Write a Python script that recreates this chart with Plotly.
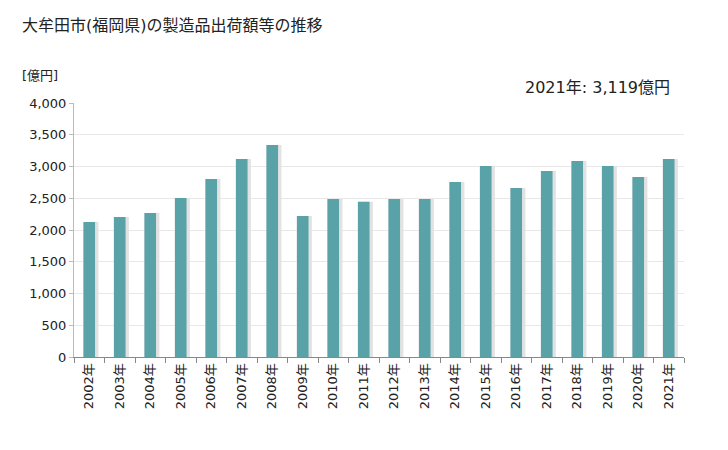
import plotly.graph_objects as go

years = ["2002年", "2003年", "2004年", "2005年", "2006年", "2007年", "2008年", "2009年", "2010年", "2011年",
         "2012年", "2013年", "2014年", "2015年", "2016年", "2017年", "2018年", "2019年", "2020年", "2021年"]
values = [2126, 2205, 2268, 2504, 2803, 3118, 3339, 2220, 2488, 2446,
          2488, 2488, 2756, 3008, 2661, 2929, 3087, 3008, 2835, 3119]
y_ticks = [0, 500, 1000, 1500, 2000, 2500, 3000, 3500, 4000]
y_tick_labels = ["0", "500", "1,000", "1,500", "2,000", "2,500", "3,000", "3,500", "4,000"]

title = "大牟田市(福岡県)の製造品出荷額等の推移"
unit = "[億円]"
note = "2021年: 3,119億円"

FONT = "DejaVu Sans, Noto Sans CJK JP, sans-serif"

# plot area on screen: x 74..684, y 103..357
def px(sx):
    return (sx - 74) / 610

def py(sy):
    return 1 + (103 - sy) / 254

fig = go.Figure()
# shadow
fig.add_trace(go.Bar(x=years, y=values, width=0.5, offset=-0.2,
                     marker=dict(color="#e2e2e2", line=dict(width=0)), hoverinfo="skip"))
fig.add_trace(go.Bar(x=years, y=values, width=0.38, offset=-0.19,
                     marker=dict(color="#58a2a8", line=dict(width=0))))

fig.update_layout(
    width=728, height=450,
    margin=dict(l=66, r=52, t=95, b=101),
    paper_bgcolor="white", plot_bgcolor="white",
    showlegend=False, barmode="overlay",
    font=dict(family=FONT, size=13, color="#222"),
    xaxis=dict(type="category", tickangle=-90, ticks="outside", tickson="boundaries",
               ticklen=5, tickcolor="#888", showline=True, linecolor="#888", linewidth=1,
               showgrid=False, tickfont=dict(size=13, color="#222")),
    yaxis=dict(range=[0, 4000], tickvals=y_ticks, ticktext=y_tick_labels,
               showgrid=True, gridcolor="#e8e8e8", gridwidth=1,
               showline=True, linecolor="#bbb", linewidth=1, ticks="outside", ticklen=4,
               tickcolor="#bbb", tickfont=dict(size=13, color="#222"), zeroline=False),
)
fig.add_annotation(text=title, xref="paper", yref="paper", x=px(20), y=py(25),
                   xanchor="left", yanchor="middle", showarrow=False,
                   font=dict(size=16, color="#222", family=FONT))
fig.add_annotation(text=unit, xref="paper", yref="paper", x=px(20), y=py(75),
                   xanchor="left", yanchor="middle", showarrow=False,
                   font=dict(size=13, color="#222", family=FONT))
fig.add_annotation(text=note, xref="paper", yref="paper", x=px(672), y=py(87),
                   xanchor="right", yanchor="middle", showarrow=False,
                   font=dict(size=16, color="#222", family=FONT))

fig.write_html("out.html")
